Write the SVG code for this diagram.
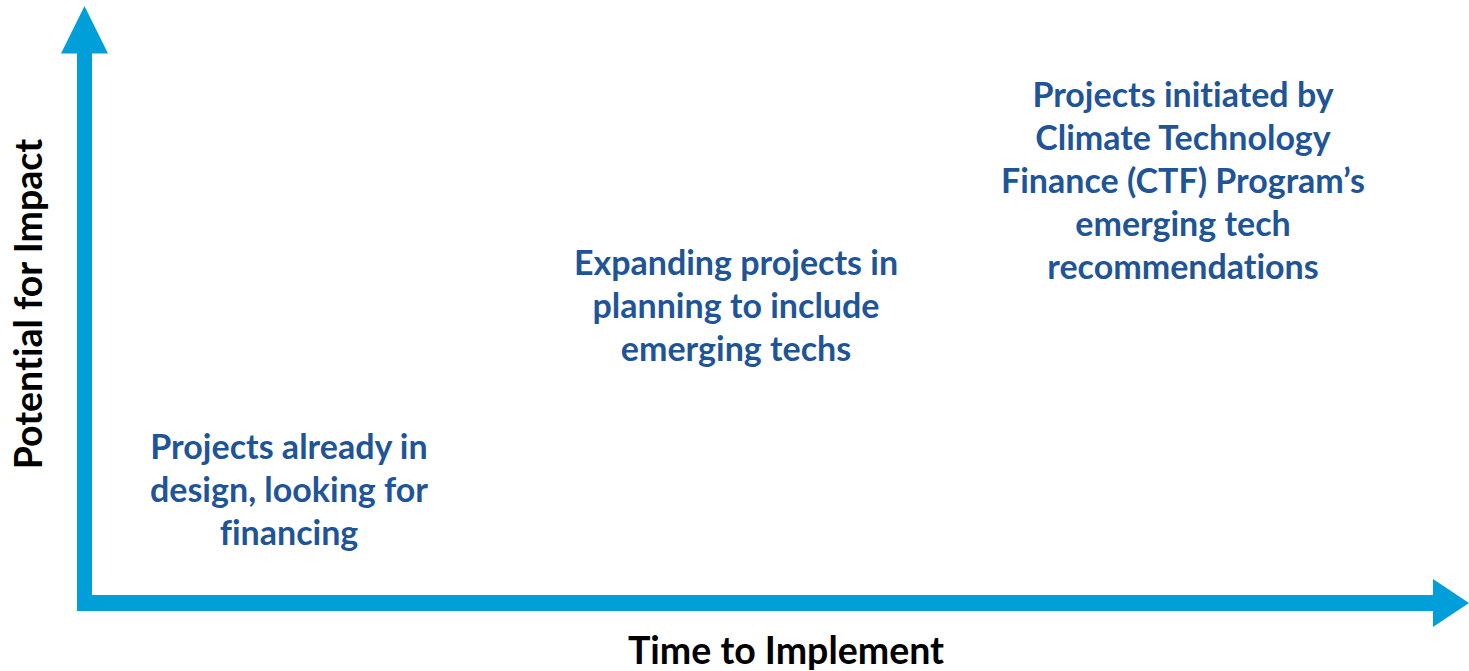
<svg xmlns="http://www.w3.org/2000/svg" width="1469" height="671" viewBox="0 0 1469 671">
<style>
text{font-variant-ligatures:none;font-feature-settings:"liga" 0}
.lbl{font-family:Lato,"Open Sans","Liberation Sans",sans-serif;font-weight:bold;font-size:34px;fill:#1F5597;text-anchor:middle}
.ax{font-family:Lato,"Open Sans","Liberation Sans",sans-serif;font-weight:bold;font-size:37.5px;fill:#000;text-anchor:middle}
.axis{fill:#009FDA}
</style>
<rect width="1469" height="671" fill="#fff"/>
<g id="connectors">
<path class="axis" d="M77,611 V53.5 H61 L84.5,6 L108,53.5 H92 V595 H1433 V579 L1469,603 L1433,627 V611 Z"/>
</g>
<g id="node-low">
<text class="lbl" x="289" y="459">Projects already in</text>
<text class="lbl" x="289" y="502">design, looking for</text>
<text class="lbl" x="289" y="545">financing</text>
</g>
<g id="node-mid">
<text class="lbl" x="736" y="275">Expanding projects in</text>
<text class="lbl" x="736" y="318">planning to include</text>
<text class="lbl" x="736" y="361">emerging techs</text>
</g>
<g id="node-high">
<text class="lbl" x="1183" y="107">Projects initiated by</text>
<text class="lbl" x="1183" y="150">Climate Technology</text>
<text class="lbl" x="1183" y="193">Finance (CTF) Program’s</text>
<text class="lbl" x="1183" y="236">emerging tech</text>
<text class="lbl" x="1183" y="279">recommendations</text>
</g>
<g id="axis-x-label">
<text class="ax" x="786" y="664">Time to Implement</text>
</g>
<g id="axis-y-label">
<text class="ax" transform="translate(42,304) rotate(-90)">Potential for Impact</text>
</g>
</svg>
